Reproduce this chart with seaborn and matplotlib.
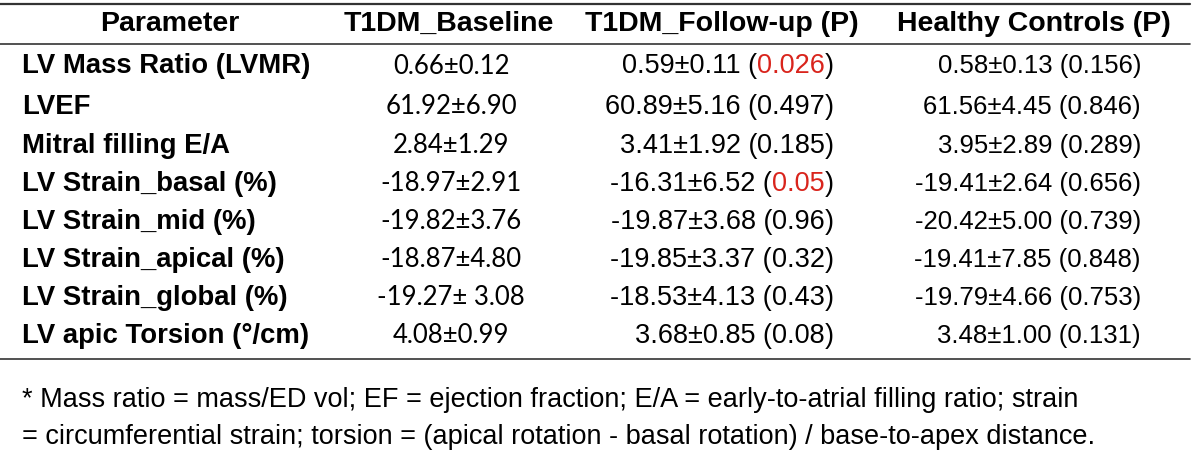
import matplotlib
matplotlib.use("Agg")
import matplotlib.pyplot as plt
import seaborn as sns

sns.set_theme(style="white")
plt.rcParams['font.family'] = ['Liberation Sans', 'DejaVu Sans']
plt.rcParams['text.color'] = 'black'

headers = ["Parameter", "T1DM_Baseline", "T1DM_Follow-up (P)", "Healthy Controls (P)"]
parameters = ["LV Mass Ratio (LVMR)", "LVEF", "Mitral filling E/A", "LV Strain_basal (%)",
              "LV Strain_mid (%)", "LV Strain_apical (%)", "LV Strain_global (%)",
              "LV apic Torsion (°/cm)"]
baseline = ["0.66±0.12", "61.92±6.90", "2.84±1.29", "-18.97±2.91", "-19.82±3.76",
            "-18.87±4.80", "-19.27± 3.08", "4.08±0.99"]
followup = ["0.59±0.11", "60.89±5.16", "3.41±1.92", "-16.31±6.52", "-19.87±3.68",
            "-19.85±3.37", "-18.53±4.13", "3.68±0.85"]
followup_p = ["0.026", "0.497", "0.185", "0.05", "0.96", "0.32", "0.43", "0.08"]
healthy = ["0.58±0.13", "61.56±4.45", "3.95±2.89", "-19.41±2.64", "-20.42±5.00",
           "-19.41±7.85", "-19.79±4.66", "3.48±1.00"]
healthy_p = ["0.156", "0.846", "0.289", "0.656", "0.739", "0.848", "0.753", "0.131"]
significant = [True, False, False, True, False, False, False, False]
footnote = ["* Mass ratio = mass/ED vol; EF = ejection fraction; E/A = early-to-atrial filling ratio; strain",
            "= circumferential strain; torsion = (apical rotation - basal rotation) / base-to-apex distance."]

fig = plt.figure(figsize=(12, 4.77), dpi=100)
ax = fig.add_axes([0, 0, 1, 1])
ax.set_xlim(0, 1200)
ax.set_ylim(477, 0)
ax.axis("off")

fs = 19.5
calibri_like = ['Lato', 'DejaVu Sans']

# rules
ax.plot([0, 1190], [5, 5], color="#333333", lw=1.6)
ax.plot([0, 1190], [45, 45], color="#333333", lw=1.2)
ax.plot([0, 1190], [360, 360], color="#333333", lw=1.2)

# header
head_x = [170, 449, 722, 1034]
for h, x in zip(headers, head_x):
    ax.text(x, 24, h, ha="center", va="center", fontsize=20.5, fontweight="bold")

row_y = [66, 107, 146, 184, 222, 260, 298, 336]


def right_parts(x, y, parts):
    # draw pieces right to left so the group ends at x
    prev = None
    for txt, col in reversed(parts):
        if prev is None:
            prev = ax.text(x, y, txt, ha="right", va="center", fontsize=fs, color=col)
        else:
            prev = ax.annotate(txt, xy=(0, 0), xycoords=prev, ha="right", va="bottom",
                               fontsize=fs, color=col)


for i, y in enumerate(row_y):
    ax.text(22, y, parameters[i], ha="left", va="center", fontsize=fs + 0.3, fontweight="bold")
    ax.text(451, y, baseline[i], ha="center", va="center", fontsize=18.5, family=calibri_like)
    pcol = "#d9241c" if significant[i] else "black"
    right_parts(834, y, [(followup[i] + " (", "black"), (followup_p[i], pcol), (")", "black")])
    ax.text(1141, y, f"{healthy[i]} ({healthy_p[i]})", ha="right", va="center", fontsize=18.5)

for j, line in enumerate(footnote):
    ax.text(22, 400 + 37 * j, line, ha="left", va="center", fontsize=fs)

fig.savefig("out.png", dpi=100, facecolor="white")
